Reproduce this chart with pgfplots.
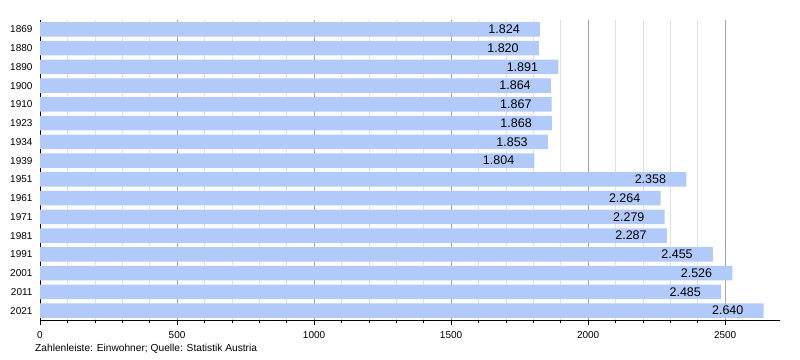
\documentclass[border=0pt]{standalone}
\usepackage{pgfplots}
\pgfplotsset{compat=1.18}
\usepackage{fontspec}
\setmainfont{Liberation Sans}
\definecolor{barblue}{RGB}{178,202,250}
\definecolor{majgrid}{RGB}{165,165,165}
\definecolor{mingrid}{RGB}{225,225,225}
\begin{document}
\begin{tikzpicture}
\useasboundingbox (0,0) rectangle (800bp,360bp);
\begin{axis}[
  at={(40bp,40bp)}, anchor=south west,
  scale only axis, width=740bp, height=300bp,
  xbar, bar width=14.6bp,
  xmin=0, xmax=2700,
  ymin=-0.5, ymax=15.5, y dir=reverse,
  ytick={0,...,15},
  yticklabels={1869,1880,1890,1900,1910,1923,1934,1939,1951,1961,1971,1981,1991,2001,2011,2021},
  xtick={0,500,1000,1500,2000,2500},
  minor x tick num=4,
  xmajorgrids, xminorgrids,
  major grid style={majgrid, line width=0.6bp},
  minor grid style={mingrid, line width=0.6bp},
  axis x line=bottom, axis y line=left,
  axis line style={-, black, line width=0.8bp},
  ytick style={draw=none},
  tick align=outside,
  major tick length=5bp, minor tick length=3bp,
  every tick/.style={black, line width=0.6bp},
  x tick label style={font=\fontsize{10bp}{12bp}\selectfont, /pgf/number format/1000 sep={}, /pgf/number format/assume math mode=true, yshift=-3bp},
  y tick label style={font=\fontsize{10bp}{12bp}\selectfont, /pgf/number format/assume math mode=true, xshift=1bp},
  nodes near coords={\pgfmathprintnumber[1000 sep={.},assume math mode=true]{\pgfplotspointmeta}},
  every node near coord/.append style={anchor=east, inner sep=0pt, xshift=-20bp, font=\fontsize{12.5bp}{14bp}\selectfont, text=black},
]
\addplot[draw=none, fill=barblue] coordinates {
(1824,0) (1820,1) (1891,2) (1864,3) (1867,4) (1868,5) (1853,6) (1804,7)
(2358,8) (2264,9) (2279,10) (2287,11) (2455,12) (2526,13) (2485,14) (2640,15)
};
\end{axis}
\node[anchor=west, inner sep=0pt, font=\fontsize{10.2bp}{12bp}\selectfont] at (35bp,11bp) {Zahlenleiste: Einwohner; Quelle: Statistik Austria};
\end{tikzpicture}
\end{document}
